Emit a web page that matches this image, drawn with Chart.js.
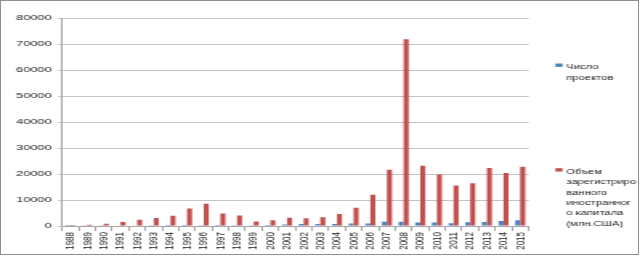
<!DOCTYPE html>
<html>
<head>
<meta charset="utf-8">
<script src="https://cdn.jsdelivr.net/npm/chart.js@4"></script>
<style>
    html, body { margin: 0; padding: 0; background: #fff; }
    /* the source picture is stretched sideways, so the chart is drawn narrow and scaled */
    #wrap { position: absolute; left: 0; top: 0; width: 402.5px; height: 257px; transform: scaleX(1.6); transform-origin: 0 0; }
    #frame { position: absolute; left: 0; top: 0; width: 637px; height: 253px; border: 1.5px solid #8f8f8f; pointer-events: none; }
</style>
</head>
<body>
<div id="wrap"><canvas id="fdiChart"></canvas></div>
<div id="frame"></div>
<script>
// Years on the x axis
const years = ['1988', '1989', '1990', '1991', '1992', '1993', '1994', '1995', '1996', '1997',
    '1998', '1999', '2000', '2001', '2002', '2003', '2004', '2005', '2006', '2007',
    '2008', '2009', '2010', '2011', '2012', '2013', '2014', '2015'];

// Number of projects
const projects = [40, 70, 100, 150, 200, 270, 340, 370, 330, 350,
    280, 310, 370, 550, 800, 800, 800, 1000, 1000, 1600,
    1600, 1300, 1300, 1100, 1400, 1500, 1950, 2250];

// Registered foreign capital, mln USD
const capital = [400, 500, 900, 1500, 2400, 3100, 3900, 6700, 8600, 4800,
    4000, 1700, 2200, 3200, 3000, 3400, 4600, 7000, 12000, 21600,
    71800, 23200, 19850, 15600, 16400, 22300, 20400, 22800];

// Legend text, one line per entry
const legendLines = [
    ['Число', 'проектов'],
    ['Объем', 'зарегистриро', 'ванного', 'иностранног', 'о капитала', '(млн.США)']
];

const seriesNames = ['Число проектов', 'Объем зарегистрированного иностранного капитала (млн.США)'];

const FONT = '"Liberation Sans", Arial, sans-serif';

// Legend drawn at the right side, like the Excel original
const sideLegend = {
    id: 'sideLegend',
    afterDraw(chart) {
        const ctx = chart.ctx;
        const firstBase = [69.3, 174];
        const lineH = 10.3;
        ctx.save();
        ctx.font = '7px ' + FONT;
        ctx.textBaseline = 'alphabetic';
        legendLines.forEach((lines, i) => {
            const ds = chart.data.datasets[i];
            ctx.fillStyle = ds.backgroundColor;
            ctx.fillRect(346.3, firstBase[i] - 5.8, 4.4, 3.4);
            ctx.fillStyle = '#222';
            lines.forEach((line, j) => {
                ctx.fillText(line, 353, firstBase[i] + j * lineH);
            });
        });
        ctx.restore();
    }
};

new Chart(document.getElementById('fdiChart'), {
    type: 'bar',
    data: {
        labels: years,
        datasets: [
            {
                label: seriesNames[0],
                data: projects,
                backgroundColor: '#4f81bd',
                categoryPercentage: 0.6,
                barPercentage: 1.0
            },
            {
                label: seriesNames[1],
                data: capital,
                backgroundColor: '#c0504d',
                categoryPercentage: 0.6,
                barPercentage: 1.0
            }
        ]
    },
    options: {
        responsive: true,
        maintainAspectRatio: false,
        animation: false,
        layout: {
            padding: { left: 0, right: 73, top: 18, bottom: 0 }
        },
        plugins: {
            legend: { display: false },
            tooltip: { enabled: false }
        },
        scales: {
            x: {
                grid: {
                    display: true,
                    drawOnChartArea: false,
                    drawTicks: true,
                    tickLength: 5,
                    offset: true,
                    color: '#a6a6a6'
                },
                border: { color: '#a6a6a6' },
                ticks: {
                    minRotation: 90,
                    maxRotation: 90,
                    autoSkip: false,
                    padding: 1,
                    color: '#222',
                    font: { family: FONT, size: 8 }
                },
                afterFit: scale => { scale.height = 31; }
            },
            y: {
                min: 0,
                max: 80000,
                ticks: {
                    stepSize: 10000,
                    padding: 4,
                    color: '#222',
                    font: { family: FONT, size: 8 },
                    callback: value => String(value)
                },
                grid: {
                    color: '#c4c4c4',
                    tickLength: 2.5
                },
                border: { color: '#a6a6a6' },
                afterFit: scale => { scale.width = 38.75; }
            }
        }
    },
    plugins: [sideLegend]
});
</script>
</body>
</html>
